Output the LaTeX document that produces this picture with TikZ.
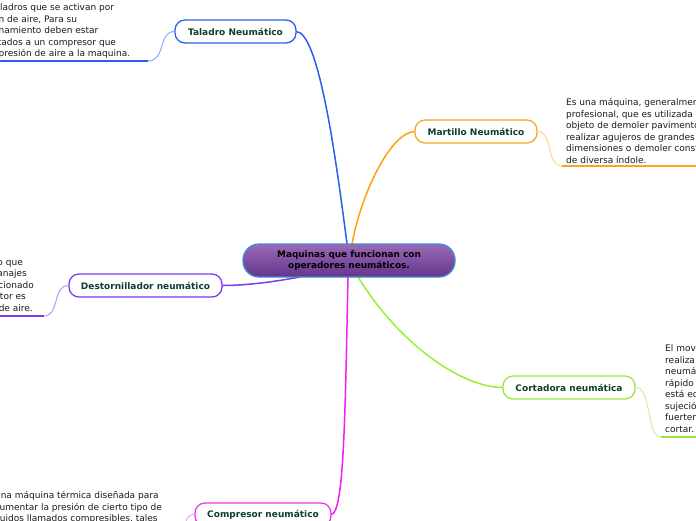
\documentclass[tikz,border=0pt]{standalone}
\usepackage{fontspec}
\setmainfont{DejaVu Sans}
\usetikzlibrary{shadings}
\definecolor{cblue}{HTML}{2A5EF0}
\definecolor{cbluel}{HTML}{8AA8FF}
\definecolor{corange}{HTML}{F5A623}
\definecolor{corangel}{HTML}{FFD58A}
\definecolor{cobr}{HTML}{FFA010}
\definecolor{cpurple}{HTML}{7A3CF0}
\definecolor{cpurplel}{HTML}{B49AF8}
\definecolor{cgreen}{HTML}{9AE63A}
\definecolor{cgreenl}{HTML}{C8F39A}
\definecolor{cgbr}{HTML}{98F030}
\definecolor{cmag}{HTML}{E83AE8}
\definecolor{cmagbr}{HTML}{F020F0}
\definecolor{cmagl}{HTML}{F4A0F4}
\definecolor{ctxt}{HTML}{0E3E2E}
\definecolor{cbody}{HTML}{1A1A1A}
\definecolor{ctop}{HTML}{9A6AB8}
\definecolor{cbot}{HTML}{64358A}
\definecolor{cedge}{HTML}{3A90D0}
\tikzset{
  topic/.style={draw=#1, line width=1.3pt, fill=white, rounded corners=10pt,
    minimum height=23pt, inner sep=0pt, text=ctxt,
    font=\fontsize{9}{10}\selectfont\bfseries},
  central/.style={draw=cedge, line width=1.3pt, rounded corners=16pt,
    top color=ctop, bottom color=cbot, minimum width=212pt, minimum height=33pt,
    inner sep=0pt, align=center, font=\fontsize{8.9}{11}\selectfont\bfseries, text=black},
  body/.style={inner sep=0pt, text=cbody, font=\fontsize{9}{11.5}\selectfont},
  branch/.style={line width=1.5pt},
  under/.style={line width=2pt}
}
\newcommand{\padr}[1]{\rule{#1}{0pt}}
\begin{document}
\begin{tikzpicture}[x=1pt,y=-1pt]
\useasboundingbox (0,0) rectangle (696,520);
\clip (0,0) rectangle (696,520);
% body texts (drawn first so that nodes cover them)
\node[body, align=left, anchor=north west] (b1) at (-29,3.5) {Son taladros que se activan por\\presión de aire, Para su\\funcionamiento deben estar\\conectados a un compresor que\\envía presión de aire a la maquina.};
\node[body, align=left, anchor=north west] (b2) at (566,98.5) {Es una máquina, generalmente de uso\\profesional, que es utilizada con el\\objeto de demoler pavimentos,\\realizar agujeros de grandes\\dimensiones o demoler construcciones\\de diversa índole.};
\node[body, align=right, anchor=north east] (b3) at (34,258) {Es un dispositivo que\padr{11pt}\\funciona con engranajes\padr{7pt}\\mecánicos, accionado\\neumáticamente, cuyo motor es\padr{8pt}\\impulsado por presión de aire.\padr{1pt}};
\node[body, align=left, anchor=north west] (b4) at (665,344.5) {El movimiento de corte se\\realiza mediante una\\neumática, que es un\\rápido movimiento que\\está equipado con una\\sujeción que se ajusta\\fuertemente al material a\\cortar.};
\node[body, align=left, anchor=north west] (b5) at (-6,491.5) {Una máquina térmica diseñada para\\aumentar la presión de cierto tipo de\\fluidos llamados compresibles, tales\\como gases y vapores.};
% connectors from center
\coordinate (cb) at (347,244);
\coordinate (co) at (352,244);
\coordinate (cp) at (300,277);
\coordinate (cg) at (358,277);
\coordinate (cm) at (348,277);
% branches
\draw[branch, cblue] (cb) .. controls (335,150) and (318,31.5) .. (296,31.5);
\draw[branch, cobr] (co) .. controls (362,190) and (392,131.5) .. (415,131.5);
\draw[branch, cpurple] (cp) .. controls (262,284) and (238,285.5) .. (222,285.5);
\draw[branch, cgbr] (cg) .. controls (400,345) and (462,387.5) .. (503,387.5);
\draw[branch, cmagbr] (cm) .. controls (345,420) and (344,514.5) .. (331,514.5);
% central node
\node[central] (c) at (349,260.5) {Maquinas que funcionan con\\operadores neumáticos.};
% topic nodes
\node[topic=cblue, minimum width=121pt] (t1) at (235.5,31.5) {Taladro Neumático};
\node[topic=corange, minimum width=122pt] (t2) at (476,131.5) {Martillo Neumático};
\node[topic=cpurple, minimum width=153pt] (t3) at (145.5,285.5) {Destornillador neumático};
\node[topic=cgreen, minimum width=132pt] (t4) at (569,387.5) {Cortadora neumática};
\node[topic=cmag, minimum width=136pt] (t5) at (263,514.5) {Compresor neumático};
% leaf connector ends
\coordinate (u1) at (148,61);  \coordinate (e1) at (-10,61);
\coordinate (u2) at (562,166); \coordinate (e2) at (710,166);
\coordinate (u3) at (44,316);  \coordinate (e3) at (-10,316);
\coordinate (u4) at (661,437); \coordinate (e4) at (710,437);
\coordinate (u5) at (174,536); \coordinate (e5) at (-10,536);
\draw[line width=1pt, cbluel] (t1.west) .. controls (158,31.5) and (166,61) .. (u1);
\draw[under, cblue] (u1) -- (e1);
\draw[line width=1pt, corangel] (t2.east) .. controls (553,131.5) and (546,166) .. (u2);
\draw[under, corange] (u2) -- (e2);
\draw[line width=1pt, cpurplel] (t3.west) .. controls (52,285.5) and (60,316) .. (u3);
\draw[under, cpurple] (u3) -- (e3);
\draw[line width=1pt, cgreenl] (t4.east) .. controls (652,387.5) and (646,437) .. (u4);
\draw[under, cgreen] (u4) -- (e4);
\draw[line width=1pt, cmagl] (t5.west) .. controls (180,514.5) and (190,536) .. (u5);
\draw[under, cmag] (u5) -- (e5);
\end{tikzpicture}
\end{document}
